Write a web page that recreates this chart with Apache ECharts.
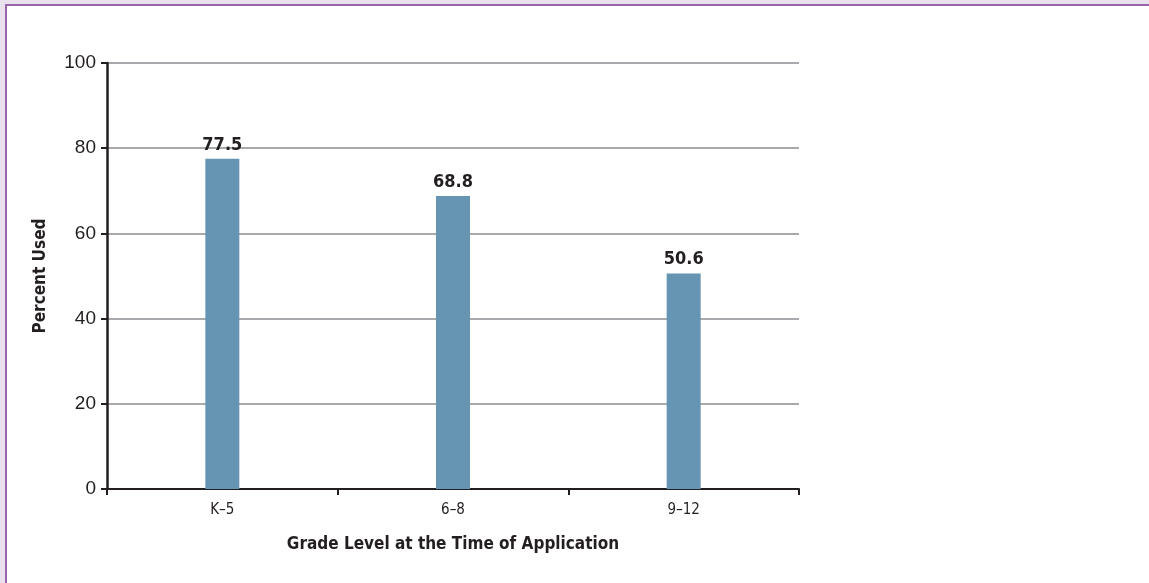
<!DOCTYPE html>
<html><head><meta charset="utf-8">
<script src="https://cdn.jsdelivr.net/npm/echarts@6/dist/echarts.min.js"></script>
<style>
html,body{margin:0;padding:0;background:#e9e1ee;}
#frame{position:absolute;left:5px;top:4px;width:1144px;height:579px;border-left:2px solid #9c63ad;border-top:2px solid #9c63ad;background:#fff;box-sizing:border-box;}
#chart{position:absolute;left:0;top:0;width:1149px;height:583px;}
</style></head>
<body>
<div id="frame"></div>
<div id="chart"></div>
<script>
const categories = ['K\u20135', '6\u20138', '9\u201312'];
const percentUsed = [77.5, 68.8, 50.6];
const yTicks = [0, 20, 40, 60, 80, 100];

const condensed = "'DejaVu Sans Condensed', 'Liberation Sans', sans-serif";
const chart = echarts.init(document.getElementById('chart'), null, {renderer:'canvas'});
chart.setOption({
  animation:false,
  backgroundColor:'transparent',
  grid:{left:107, right:350, top:63, bottom:94, containLabel:false},
  xAxis:{
    type:'category', data:categories,
    name:'Grade Level at the Time of Application', nameLocation:'middle', nameGap:47,
    nameTextStyle:{fontFamily:condensed, fontWeight:'bold', fontSize:17, color:'#231f20'},
    axisLine:{lineStyle:{color:'#231f20', width:2}},
    axisTick:{show:true, alignWithLabel:false, length:6, lineStyle:{color:'#231f20', width:2}},
    axisLabel:{margin:14, fontFamily:condensed, fontSize:15, color:'#231f20'}
  },
  yAxis:{
    type:'value', min:0, max:100, interval:20,
    name:'Percent Used', nameLocation:'middle', nameGap:58, nameRotate:90,
    nameTextStyle:{fontFamily:condensed, fontWeight:'bold', fontSize:17, color:'#231f20'},
    axisLine:{show:true, lineStyle:{color:'#231f20', width:2.5}},
    axisTick:{show:true, length:6, lineStyle:{color:'#231f20', width:2}},
    axisLabel:{margin:11, fontFamily:"'Liberation Sans', sans-serif", fontSize:19, color:'#231f20',
      formatter:function(v){return yTicks.indexOf(v)>=0 ? String(v) : '';}},
    splitLine:{show:true, lineStyle:{color:'#a7a9ac', width:2}}
  },
  series:[{
    type:'bar', data:percentUsed, barWidth:34,
    itemStyle:{color:'#6595b2'},
    label:{show:true, position:'top', distance:5, formatter:function(p){return p.value.toFixed(1);},
      fontFamily:condensed, fontWeight:'bold', fontSize:18, color:'#231f20'}
  }]
});
</script>
</body></html>
